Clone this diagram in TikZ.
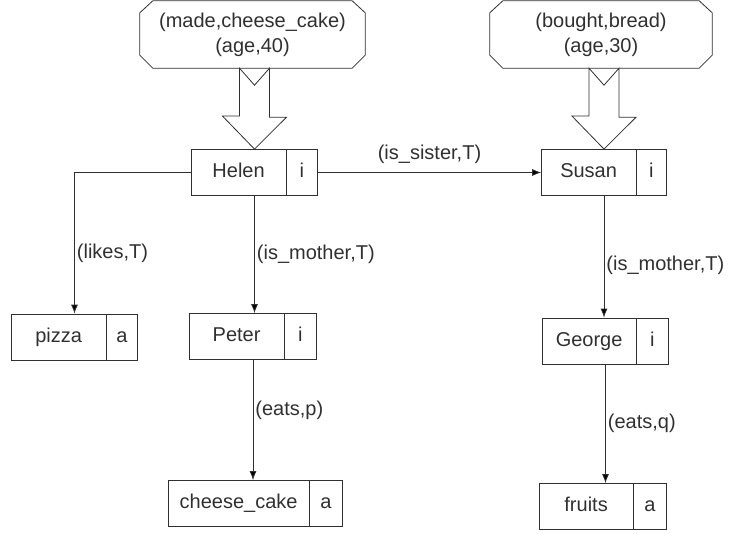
\documentclass[tikz,border=0pt]{standalone}
\usepackage{fontspec}
\setmainfont{Liberation Sans}
\usetikzlibrary{shapes.multipart,arrows.meta,positioning}
\definecolor{ink}{HTML}{303030}
\tikzset{
  entity/.style={draw=ink, line width=0.8pt, rectangle split, rectangle split horizontal,
    rectangle split parts=2, inner xsep=0pt, inner ysep=0pt, minimum height=46pt, text=ink},
  attrbox/.style={inner sep=0pt, align=center, text=ink, minimum height=67pt},
  octline/.style={draw=ink, line width=0.8pt},
  link/.style={draw=ink, line width=0.8pt, -{Latex[length=9pt,width=7pt]}},
  lbl/.style={text=ink, inner sep=2pt},
  blockarrow/.style={draw=ink, line width=0.8pt, fill=white, line join=miter}
}
\begin{document}
\begin{tikzpicture}[x=1pt,y=-1pt,font=\fontsize{20}{25}\selectfont]
  \useasboundingbox (0,0) rectangle (735,534);

  \node[attrbox, minimum width=225pt] (attrHelen) at (252.5,34.5) {(made,cheese\_cake)\\(age,40)};
  \node[attrbox, minimum width=222pt] (attrSusan) at (601,34.5) {(bought,bread)\\(age,30)};
  \foreach \n in {attrHelen,attrSusan}
    \draw[octline] ([xshift=13pt]\n.north west) -- ([xshift=-13pt]\n.north east)
      -- ([yshift=-12pt]\n.north east) -- ([yshift=13pt]\n.south east)
      -- ([xshift=-13pt]\n.south east) -- ([xshift=13pt]\n.south west)
      -- ([yshift=13pt]\n.south west) -- ([yshift=-12pt]\n.north west) -- cycle;

  \node[entity] (helen) at (254.5,172.5) {\makebox[94pt]{\strut Helen}\nodepart{two}\makebox[31pt]{\strut i}};
  \node[entity] (susan) at (604,172.5) {\makebox[94pt]{\strut Susan}\nodepart{two}\makebox[30pt]{\strut i}};

  \node[entity] (pizza) at (74.5,337) {\makebox[94pt]{\strut pizza}\nodepart{two}\makebox[31pt]{\strut a}};
  \node[entity] (peter) at (253,336.5) {\makebox[94pt]{\strut Peter}\nodepart{two}\makebox[32pt]{\strut i}};
  \node[entity] (george) at (605.5,341) {\makebox[93pt]{\strut George}\nodepart{two}\makebox[32pt]{\strut i}};

  \node[entity] (cheese) at (255.5,503.5) {\makebox[140pt]{\strut cheese\_cake}\nodepart{two}\makebox[33pt]{\strut a}};
  \node[entity] (fruits) at (603,506.5) {\makebox[93pt]{\strut fruits}\nodepart{two}\makebox[33pt]{\strut a}};

  \draw[blockarrow] (attrHelen.south -| helen.north) ++(-15,0) -- ++(15,17) -- ++(15,-17) -- ++(0,49)
    -- ++(17,0) -- (helen.north) -- ++(-32,-33) -- ++(17,0) -- cycle;
  \draw[blockarrow] (attrSusan.south -| susan.north) ++(-15,0) -- ++(15,17) -- ++(15,-17) -- ++(0,49)
    -- ++(17,0) -- (susan.north) -- ++(-32,-33) -- ++(17,0) -- cycle;

  \draw[link] (helen.west) -| node[lbl, pos=0.786, right] {(likes,T)} (pizza.north);
  \draw[link] (helen.south) -- node[lbl, right] {(is\_mother,T)} (helen.south |- peter.north);
  \draw[link] (helen.east) -- node[lbl, above=6pt] {(is\_sister,T)} (susan.west);
  \draw[link] (peter.south) -- node[lbl, pos=0.42, right] {(eats,p)} (peter.south |- cheese.north);
  \draw[link] (susan.south) -- node[lbl, pos=0.57, right] {(is\_mother,T)} (susan.south |- george.north);
  \draw[link] (george.south) -- node[lbl, right] {(eats,q)} (george.south |- fruits.north);
\end{tikzpicture}
\end{document}
